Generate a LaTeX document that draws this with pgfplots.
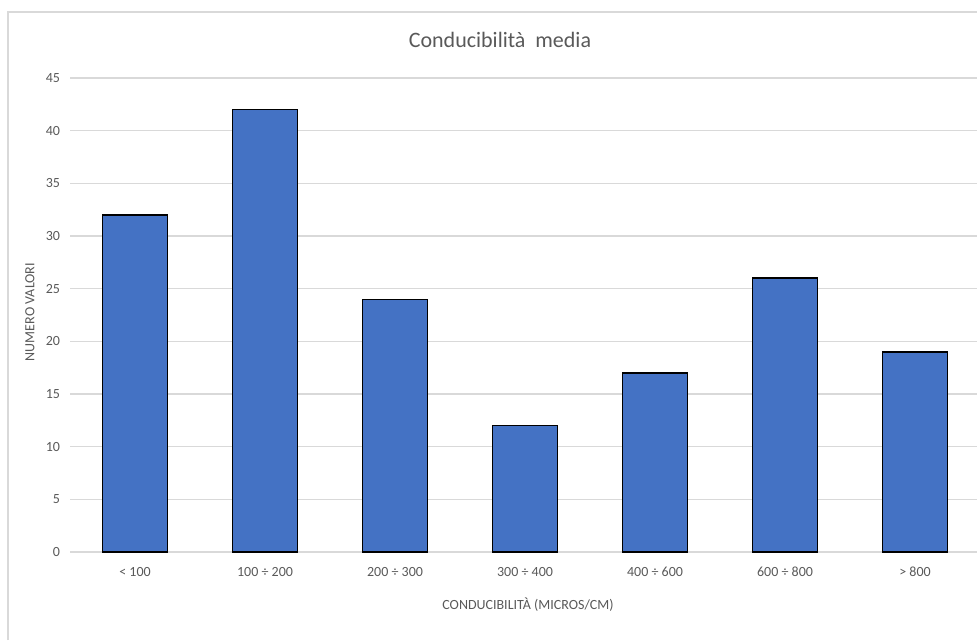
\documentclass[border=0pt]{standalone}
\usepackage{pgfplots}
\pgfplotsset{compat=1.18}
\usepackage{fontspec}
\setmainfont{Carlito}
\definecolor{barblue}{HTML}{4472C4}
\definecolor{txtgray}{HTML}{595959}
\definecolor{gridgray}{HTML}{D9D9D9}
\begin{document}
\begin{tikzpicture}
\useasboundingbox (0,0) rectangle (732.75pt,480pt);
\draw[gridgray, line width=0.8pt] (6pt,0pt) -- (6pt,471pt) -- (732.75pt,471pt);
\begin{axis}[
  at={(52.5pt,66pt)}, anchor=south west,
  scale only axis, width=680.25pt, height=355.5pt,
  xmin=-0.5, xmax=6.477, ymin=0, ymax=45,
  ytick={0,5,...,45},
  xtick={0,1,2,3,4,5,6},
  xticklabels={{< 100},{100 ÷ 200},{200 ÷ 300},{300 ÷ 400},{400 ÷ 600},{600 ÷ 800},{> 800}},
  axis line style={draw=none},
  major tick length=0pt,
  ymajorgrids, grid style={gridgray, line width=0.8pt},
  tick label style={font=\fontsize{10.5}{12}\selectfont, text=txtgray},
  /pgf/number format/assume math mode=true,
  yticklabel style={xshift=-4pt},
  xticklabel style={yshift=-8pt},
  clip=false,
]
\draw[gridgray, line width=0.8pt] (axis cs:-0.5,0) -- (axis cs:6.477,0);
\addplot[ybar, bar width=48.75pt, fill=barblue, draw=black, line width=1pt]
  coordinates {(0,32) (1,42) (2,24) (3,12) (4,17) (5,26) (6,19)};
\end{axis}
\node[text=txtgray, font=\fontsize{16.5}{18}\selectfont] at (375pt,450pt) {Conducibilità\ \ media};
\node[text=txtgray, font=\fontsize{10.5}{12}\selectfont] at (396pt,26.25pt) {CONDUCIBILITÀ (MICROS/CM)};
\node[text=txtgray, font=\fontsize{10.5}{12}\selectfont, rotate=90] at (22.5pt,246pt) {NUMERO VALORI};
\end{tikzpicture}
\end{document}
